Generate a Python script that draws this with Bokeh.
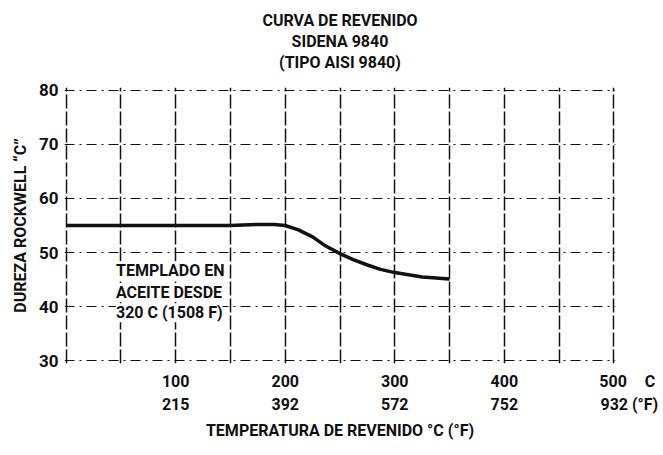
from bokeh.plotting import figure
from bokeh.models import Range1d, FixedTicker, LinearAxis, Label, Title
from bokeh.embed import file_html
from bokeh.resources import INLINE

# ---- data ----
temp_c = [0, 50, 100, 150, 175, 190, 200, 212, 225, 237, 250, 262, 275, 287, 300, 325, 350]
hardness = [55.0, 55.0, 55.0, 55.0, 55.2, 55.2, 55.0, 54.2, 52.9, 51.2, 49.8, 48.7, 47.7, 46.9, 46.3, 45.5, 45.1]
x_ticks_c = [100, 200, 300, 400, 500]
x_labels_c = ["100", "200", "300", "400", "500"]
x_labels_f = ["215", "392", "572", "752", "932"]
unit_c = "C"
unit_f = "(\u00b0F)"
y_ticks = [30, 40, 50, 60, 70, 80]
grid_x = [0, 50, 100, 150, 200, 250, 300, 350, 400, 450, 500]
title_lines = ["CURVA DE REVENIDO", "SIDENA 9840", "(TIPO AISI 9840)"]
note_lines = ["TEMPLADO EN", "ACEITE DESDE", "320 C (1508 F)"]

FONT = "Roboto"
INK = "#111111"
FS = "\u2007"   # figure space (keeps the last tick label centred on its tick)
NB = "\u00a0"

p = figure(width=660, height=452, output_backend="svg", toolbar_location=None,
           x_range=Range1d(-1.5, 501.5), y_range=Range1d(29.5, 80.5),
           min_border_left=64, min_border_right=45, min_border_top=87, min_border_bottom=89)
p.outline_line_color = None
p.background_fill_color = "white"

# grids
p.xgrid.ticker = FixedTicker(ticks=grid_x)
p.xgrid.grid_line_color = INK
p.xgrid.grid_line_width = 1.5
p.xgrid.grid_line_dash = "14 3"
p.ygrid.ticker = FixedTicker(ticks=y_ticks)
p.ygrid.grid_line_color = INK
p.ygrid.grid_line_width = 1.2
p.ygrid.grid_line_dash = "10 5 2 5"


def style_axis(ax, size="16px"):
    ax.axis_line_color = None
    ax.major_tick_line_color = None
    ax.minor_tick_line_color = None
    ax.major_tick_out = 0
    ax.major_tick_in = 0
    ax.minor_tick_out = 0
    ax.minor_tick_in = 0
    ax.major_label_text_font = FONT
    ax.major_label_text_font_size = size
    ax.major_label_text_font_style = "bold"
    ax.major_label_text_color = INK
    ax.axis_label_text_font = FONT
    ax.axis_label_text_font_size = "16px"
    ax.axis_label_text_font_style = "bold"
    ax.axis_label_text_color = INK


# y axis
ya = p.yaxis[0]
style_axis(ya, "17px")
ya.ticker = FixedTicker(ticks=y_ticks)
ya.major_label_standoff = 6
ya.axis_label = "DUREZA ROCKWELL \u201cC\u201d"
ya.axis_label_standoff = 6

# x axis (Celsius); unit written after the last tick label
lab_c = list(x_labels_c)
lab_c[-1] = FS * 3 + lab_c[-1] + FS * 2 + unit_c
xa = p.xaxis[0]
style_axis(xa)
xa.ticker = FixedTicker(ticks=x_ticks_c)
xa.major_label_overrides = dict(zip(x_ticks_c, lab_c))
xa.major_label_standoff = 8

# second x axis (Fahrenheit)
lab_f = list(x_labels_f)
lab_f[-1] = FS * 3 + NB + lab_f[-1] + NB + unit_f
xf = LinearAxis(ticker=FixedTicker(ticks=x_ticks_c),
                major_label_overrides=dict(zip(x_ticks_c, lab_f)))
style_axis(xf)
xf.major_label_standoff = 1
xf.axis_label = "TEMPERATURA DE REVENIDO \u00b0C (\u00b0F)"
xf.axis_label_standoff = 4
p.add_layout(xf, "below")

# curve
p.line(temp_c, hardness, line_color=INK, line_width=3.5)

# spacer between the plot and the title block
p.add_layout(Title(text=NB, standoff=3, text_font_size="10px"), "above")
# title lines (innermost first)
for txt in reversed(title_lines):
    p.add_layout(Title(text=txt, align="center", standoff=0, text_font=FONT,
                       text_font_size="16px", text_font_style="bold", text_color=INK), "above")

# note block
for txt, yy in zip(note_lines, [46.7, 42.6, 38.9]):
    p.add_layout(Label(x=45.5, y=yy, text=txt, text_align="left", text_baseline="middle",
                       text_font=FONT, text_font_size="16px", text_font_style="bold",
                       text_color=INK, background_fill_color="white"))

open("out.html", "w").write(file_html(p, INLINE))
